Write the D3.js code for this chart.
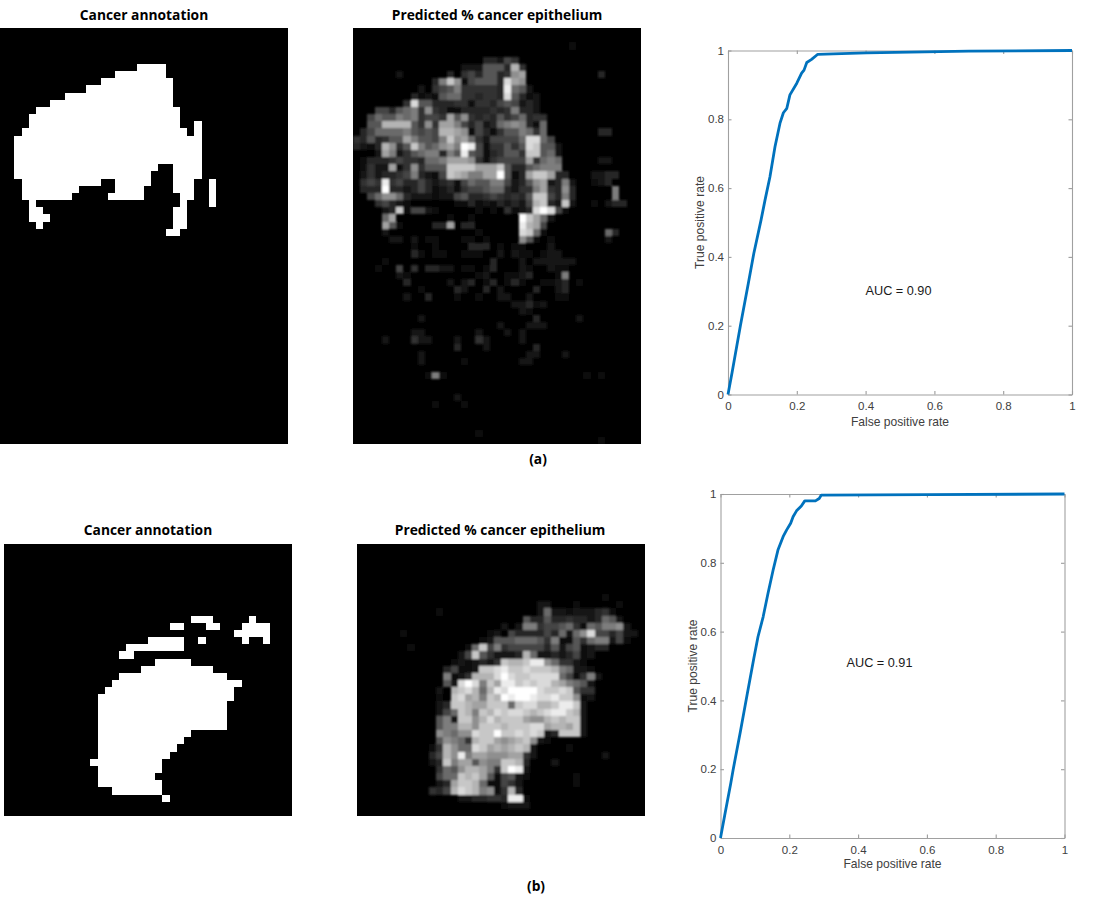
<!DOCTYPE html>
<html><head><meta charset="utf-8">
<script src="https://cdn.jsdelivr.net/npm/d3@7"></script>
<style>html,body{margin:0;background:#fff}svg{display:block}</style></head>
<body><div id="c"></div>
<script>
// Binary annotation masks: [row, firstCol, lastCol]
const maskA=[[5,19,22],[6,16,22],[7,14,23],[8,12,23],[9,9,23],[10,7,23],[11,5,24],[12,4,24],[13,4,24],[13,27,27],[14,3,25],[14,27,27],[15,2,27],[16,2,27],[17,2,27],[18,2,27],[19,2,21],[19,24,27],[20,2,20],[20,24,27],[21,3,13],[21,16,20],[21,24,26],[21,29,29],[22,3,10],[22,16,19],[22,24,26],[22,29,29],[23,3,9],[23,15,19],[23,25,26],[23,29,29],[24,4,4],[24,25,25],[24,29,29],[25,4,5],[25,24,25],[26,4,6],[26,24,25],[27,5,5],[27,24,25],[28,23,24]];
const maskB=[[10,26,28],[10,34,34],[11,23,24],[11,28,29],[11,33,36],[12,32,36],[13,20,24],[13,27,27],[13,33,33],[13,36,36],[14,17,24],[15,16,17],[16,21,25],[17,19,28],[18,16,30],[19,15,32],[20,14,31],[21,13,31],[22,13,30],[23,13,30],[24,13,30],[25,13,30],[26,13,25],[27,13,24],[28,13,23],[29,13,22],[30,12,21],[31,13,21],[32,13,20],[33,13,21],[34,15,21],[35,22,22]];
// Predicted maps: [row, firstCol, hex grey levels]
const heatA=[[2,30,"1"],[4,18,"33254"],[5,15,"2226663b4"],[6,6,"2"],[6,13,"3"],[6,15,"45366349a"],[6,34,"3"],[7,11,"38c9156663da9"],[8,9,"2"],[8,11,"4568444443e762"],[9,8,"3121677443443d6312"],[10,7,"4d66333441443565232"],[11,3,"55367849431133334348332"],[12,2,"5766878455"+"4a69434364"+"57344"],[13,2,"66bbbb6494"+"aa85352378"+"98317"],[14,1,"3577778656"+"5bba915314"+"668747"],[14,34,"33"],[15,0,"4363466a86"+"658c9a7425"+"5557dd75"],[16,0,"3213b946c8"+"679a8fe514"+"4646dc662"],[17,3,"2a82467883"+"86e6513466"+"4cc672"],[18,1,"1333454437"+"78aaa94145"+"555a4787"],[18,34,"22"],[19,1,"1422a14946"+"66ccccaaac"+"63367888"],[20,1,"2423345832"+"15cba88aaf"+"613acca33"],[20,33,"2233"],[21,1,"454e453353"+"2341576688"+"52369a2382"],[21,33,"123"],[22,1,"333f332353"+"1231455677"+"32448a4393"],[22,36,"8"],[23,2,"5799732221"+"2256334543"+"436cc5383"],[23,36,"8"],[24,3,"45321"],[24,14,"11312132325bc32c2"],[24,33,"1"],[24,35,"233"],[25,4,"23c15521"],[25,17,"1"],[25,19,"1"],[25,21,"4123dfd51"],[26,4,"7a"],[26,13,"1"],[26,16,"1"],[26,23,"fca72"],[27,4,"a61"],[27,11,"33a033"],[27,23,"eba5"],[28,4,"2"],[28,17,"1"],[28,23,"dc71"],[28,35,"73"],[29,5,"22"],[29,8,"2"],[29,10,"11"],[29,15,"11"],[29,18,"1"],[29,23,"961"],[29,27,"1"],[29,35,"2"],[30,8,"1"],[30,11,"1"],[30,16,"333"],[30,20,"1"],[30,22,"11"],[30,27,"2"],[31,8,"31"],[31,11,"11"],[31,15,"111"],[31,20,"2"],[31,22,"211"],[31,26,"122"],[32,4,"1"],[32,19,"3"],[32,23,"2"],[32,25,"222222"],[33,3,"1"],[33,6,"5"],[33,8,"4"],[33,10,"3322"],[33,15,"11"],[33,18,"13"],[33,23,"21"],[33,27,"211"],[34,6,"21"],[34,17,"12"],[34,21,"1123"],[34,28,"18"],[35,7,"3"],[35,13,"2"],[35,15,"23"],[35,18,"13"],[35,21,"131"],[35,26,"1123"],[35,31,"1"],[36,9,"1"],[36,14,"32"],[36,18,"3"],[36,20,"2"],[36,25,"3"],[36,28,"23"],[37,7,"2"],[37,10,"3"],[37,14,"1"],[37,17,"1"],[37,20,"22"],[37,24,"2"],[37,28,"11"],[38,22,"22312"],[39,23,"21"],[40,9,"2"],[40,25,"3"],[40,31,"2"],[41,20,"2"],[41,24,"222"],[42,8,"22"],[42,17,"2"],[42,21,"2"],[42,23,"2"],[43,4,"2"],[43,8,"422"],[43,14,"2"],[43,17,"42"],[43,23,"2"],[44,14,"3"],[44,18,"2"],[44,25,"3"],[45,9,"2"],[45,24,"22"],[45,29,"2"],[46,9,"2"],[46,15,"1"],[46,23,"22"],[48,10,"181"],[48,32,"1"],[48,34,"1"],[51,14,"2"],[52,11,"1"],[52,15,"1"],[56,17,"1"],[57,34,"1"]];
const heatB=[[7,34,"1"],[8,25,"22"],[8,30,"1"],[8,36,"1"],[9,11,"1"],[9,25,"27221222341"],[10,23,"63363343323762"],[11,20,"2"],[11,22,"2884556741768892"],[12,6,"1"],[12,18,"12"],[12,21,"53333537279d553522"],[13,17,"126667776481164788251"],[14,7,"1"],[14,15,"17c58455555362561233"],[15,14,"25c642223b722323512"],[16,13,"1212324cbbcee974421"],[17,12,"35112ccdeccdcccb87221"],[18,12,"8124bbbdfdccdddd751482"],[19,12,"62dfd8caeecdcddba8762"],[20,11,"2"],[20,13,"bcdb7bedffffdccdc644"],[21,11,"1"],[21,13,"cdab8cbfeffeddecc912"],[22,11,"23ccbaaccc7cddbbceec2"],[23,11,"257cb8cbdcddcbcdeecb2"],[24,11,"682cc9bdbccca99bcbcc2"],[25,11,"688bb9cccbcccddabbac2"],[26,11,"98799dccfccdcdc23ccc2"],[27,11,"69874bcca9abc921"],[28,10,"14b977dcababcb2"],[28,29,"1"],[29,10,"35b9e8aa999aa42"],[29,34,"2"],[30,10,"23c8aa6988ccb3"],[30,27,"2"],[31,11,"4769bba84cfe2"],[32,11,"577cbca615621"],[32,30,"1"],[33,11,"23accb711542"],[33,30,"1"],[34,10,"435bdcb8914b3"],[35,14,"2233443ee1"],[36,20,"1222"]];
// ROC curves: false positive rate / true positive rate
const fprA=[0,.012,.036,.059,.075,.096,.1076,.122,.1366,.151,.161,.171,.18,.2,.214,.221,.229,.243,.261,.306,.402,.7,1];
const tprA=[0,.065,.2,.323,.41,.507,.565,.633,.72,.788,.819,.832,.871,.905,.934,.943,.965,.974,.989,.99,.993,.998,1];
const fprB=[0,.012,.03,.037,.058,.078,.0968,.109,.124,.138,.153,.167,.182,.192,.204,.211,.221,.235,.245,.276,.287,.293,.6,1];
const tprB=[0,.065,.16,.2,.31,.42,.522,.585,.643,.711,.779,.837,.876,.895,.915,.934,.951,.965,.98,.98,.987,.997,.998,1];
const rocTicks=[0,.2,.4,.6,.8,1];
const titles=["Cancer annotation","Predicted % cancer epithelium"];
const xLabel="False positive rate", yLabel="True positive rate";

const svg=d3.select("#c").append("svg").attr("width",1096).attr("height",912);
const defs=svg.append("defs");
defs.append("filter").attr("id","soft").attr("x","-5%").attr("y","-5%").attr("width","110%").attr("height","110%")
  .append("feGaussianBlur").attr("stdDeviation",1);
defs.append("filter").attr("id","softer").attr("x","-5%").attr("y","-5%").attr("width","110%").attr("height","110%")
  .append("feGaussianBlur").attr("stdDeviation",0.4);
const grey=d3.scaleLinear().domain([0,4,15]).range([0,50,255]);
const cols=40;

function frame(name,x0,y0,w,h,rows,filter){
  const x=d3.scaleLinear().domain([0,cols]).range([x0,x0+w]);
  const y=d3.scaleLinear().domain([0,rows]).range([y0,y0+h]);
  const clip=defs.append("clipPath").attr("id","clip"+name);
  clip.append("rect").attr("x",x0).attr("y",y0).attr("width",w).attr("height",h);
  const outer=svg.append("g").attr("clip-path",`url(#clip${name})`);
  outer.append("rect").attr("x",x0).attr("y",y0).attr("width",w).attr("height",h).attr("fill","#000");
  return {x,y,g:outer.append("g").attr("filter",`url(#${filter})`).attr("shape-rendering","crispEdges")};
}
function drawMask(name,data,x0,y0,w,h,rows){
  const {x,y,g}=frame(name,x0,y0,w,h,rows,"softer");
  g.selectAll("rect").data(data).join("rect")
    .attr("x",d=>x(d[1])).attr("y",d=>y(d[0]))
    .attr("width",d=>x(d[2]+1)-x(d[1])).attr("height",d=>y(d[0]+1)-y(d[0]))
    .attr("fill","#fff");
}
function drawHeat(name,data,x0,y0,w,h,rows){
  const {x,y,g}=frame(name,x0,y0,w,h,rows,"soft");
  const cells=data.flatMap(([r,c,s])=>Array.from(s).map((ch,i)=>({r,c:c+i,v:parseInt(ch,16)})));
  g.selectAll("rect").data(cells).join("rect")
    .attr("x",d=>x(d.c)).attr("y",d=>y(d.r))
    .attr("width",d=>x(d.c+1)-x(d.c)).attr("height",d=>y(d.r+1)-y(d.r))
    .attr("fill",d=>{const v=Math.round(grey(d.v));return d3.rgb(v,v,v).formatHex();});
}
function label(t,x,y,o={}){
  return svg.append("text").attr("x",x).attr("y",y).attr("text-anchor",o.anchor||"middle")
    .attr("font-family",o.family||"Liberation Sans, Arial, sans-serif")
    .attr("font-size",o.size||12.1).attr("font-weight",o.weight||"normal")
    .attr("fill",o.fill||"#262626").attr("transform",o.rot?`rotate(-90 ${x} ${y})`:null).text(t);
}
function roc(fpr,tpr,x0,y0,size,auc,ax,ay,xLabGap){
  const x=d3.scaleLinear().domain([0,1]).range([x0,x0+size]);
  const y=d3.scaleLinear().domain([0,1]).range([y0+size,y0]);
  const g=svg.append("g");
  const fmt=d=>String(+d.toFixed(1));
  const style=(s,lab)=>{
    s.attr("font-family","Liberation Sans, Arial, sans-serif").attr("font-size",11.5);
    s.selectAll("path,line").attr("stroke","#9c9c9c").attr("stroke-width",1.1);
    s.selectAll("text").attr("fill","#404040");
    s.select(".domain").attr("stroke","#a0a0a0");
    if(!lab) s.selectAll("text").remove();
  };
  const b=d3.axisBottom(x).tickValues(rocTicks).tickFormat(fmt).tickSizeInner(-3.5).tickSizeOuter(0).tickPadding(7.5);
  const l=d3.axisLeft(y).tickValues(rocTicks).tickFormat(fmt).tickSizeInner(-3.5).tickSizeOuter(0).tickPadding(4);
  const t=d3.axisTop(x).tickValues(rocTicks).tickSizeInner(-3.5).tickSizeOuter(0);
  const r=d3.axisRight(y).tickValues(rocTicks).tickSizeInner(-3.5).tickSizeOuter(0);
  g.append("g").attr("transform",`translate(0,${y0})`).call(t).call(style,false);
  g.append("g").attr("transform",`translate(${x0+size},0)`).call(r).call(style,false);
  g.append("g").attr("transform",`translate(0,${y0+size})`).call(b).call(style,true);
  g.append("g").attr("transform",`translate(${x0},0)`).call(l).call(style,true);
  const pts=fpr.map((f,i)=>[f,tpr[i]]);
  g.append("path").attr("d",d3.line().x(d=>x(d[0])).y(d=>y(d[1]))(pts))
    .attr("fill","none").attr("stroke","#0072BD").attr("stroke-width",2.8).attr("stroke-linejoin","round");
  label(xLabel,x0+size/2,y0+size+xLabGap,{fill:"#404040"});
  label(yLabel,x0-24,y0+size/2,{rot:true,fill:"#404040"});
  label("AUC = "+auc,ax,ay,{fill:"#1a1a1a",size:12.7});
}
const titleStyle={family:"Open Sans, sans-serif",size:13.8,weight:700,fill:"#000"};
label(titles[0],144,20,titleStyle);
label(titles[1],497,20,titleStyle);
label(titles[0],148,535,titleStyle);
label(titles[1],500,535,titleStyle);
label("(a)",538,464,titleStyle);
label("(b)",536,891,titleStyle);
drawMask("ma",maskA,0,28,288,416,58);
drawHeat("ha",heatA,353,28,288,416,58);
drawMask("mb",maskB,4,544,288,272,38);
drawHeat("hb",heatB,357,544,288,272,38);
roc(fprA,tprA,728,50.5,344,"0.90",898.5,294.5,31.5);
roc(fprB,tprB,720.5,494,344,"0.91",879.5,667,30);
</script></body></html>
